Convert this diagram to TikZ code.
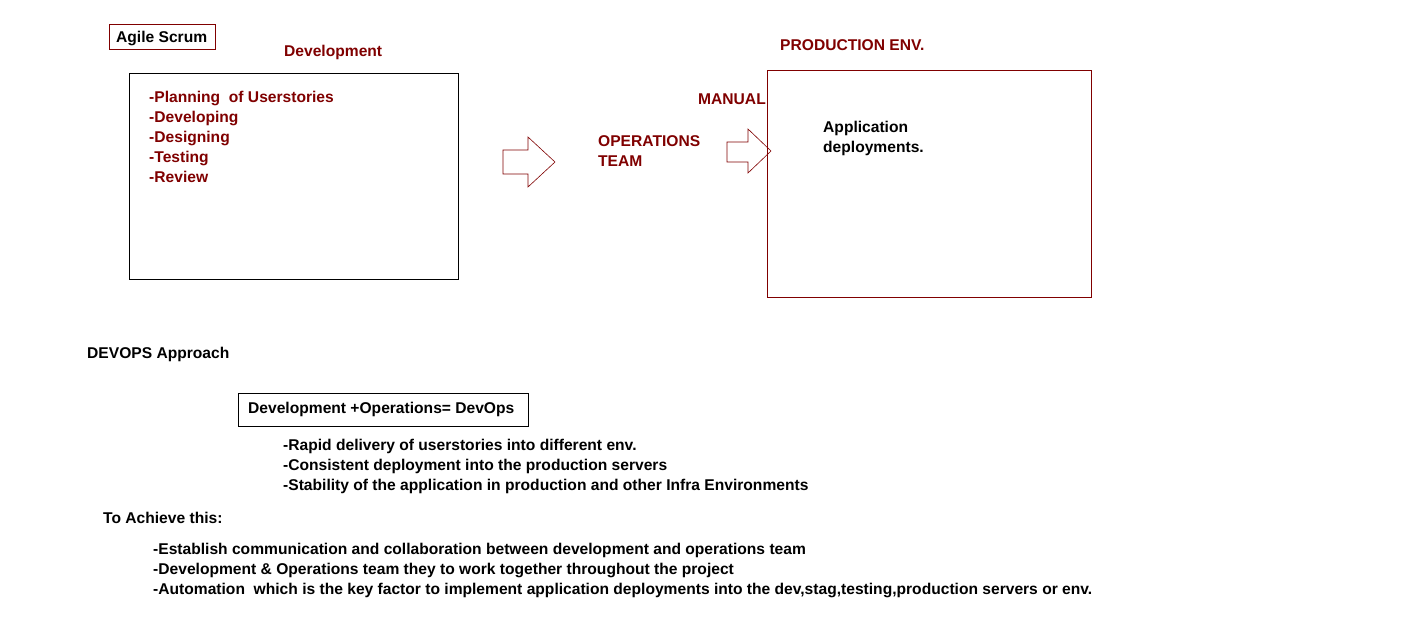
\documentclass[tikz,border=0pt]{standalone}
\usepackage{fontspec}
\setmainfont{Liberation Sans}
\definecolor{maroon}{RGB}{128,0,0}
\begin{document}
\begin{tikzpicture}[x=1pt,y=-1pt,
  txt/.style={anchor=base west,inner sep=0pt,yshift=-5.3pt,font=\fontsize{15.6}{17}\selectfont\bfseries},
  red/.style={txt,text=maroon},
  blk/.style={txt,text=black},
  box/.style={draw,line width=0.8pt}]
\useasboundingbox[fill=white] (0,0) rectangle (1401,639);
% top part
\draw[box,maroon] (109,24) rectangle (215,49);
\node[blk] (agile) at (116,37) {Agile Scrum};
\node[red] (dev) at (284,51) {Development};
\draw[box,black] (129,73) rectangle (458,279);
\node[red] (l1) at (149,97) {-Planning\ \ of Userstories};
\node[red] (l2) at (149,117) {-Developing};
\node[red] (l3) at (149,137) {-Designing};
\node[red] (l4) at (149,157) {-Testing};
\node[red] (l5) at (149,177) {-Review};
% arrows
\draw[maroon,line width=0.6pt] (503,150) -- (528,150) -- (528,137) -- (555,162) -- (528,187) -- (528,174) -- (503,174) -- cycle;
\draw[maroon,line width=0.6pt] (727,142) -- (748,142) -- (748,129) -- (771,151) -- (748,173) -- (748,162) -- (727,162) -- cycle;
\node[red] (ops1) at (598,141) {OPERATIONS};
\node[red] (ops2) at (598,161) {TEAM};
\node[red] (manual) at (698,99) {MANUAL};
\node[red] (prodt) at (780,45) {PRODUCTION ENV.};
\draw[box,maroon] (767,70) rectangle (1091,297);
\node[blk] (app1) at (823,127) {Application};
\node[blk] (app2) at (823,147) {deployments.};
% bottom part
\node[blk] (devops) at (87,353) {DEVOPS Approach};
\draw[box,black] (238,393) rectangle (528,426);
\node[blk] (eq) at (248,408) {Development +Operations= DevOps};
\node[blk] (b1) at (283,445) {-Rapid delivery of userstories into different env.};
\node[blk] (b2) at (283,465) {-Consistent deployment into the production servers};
\node[blk] (b3) at (283,485) {-Stability of the application in production and other Infra Environments};
\node[blk] (ach) at (103,518) {To Achieve this:};
\node[blk] (c1) at (153,549) {-Establish communication and collaboration between development and operations team};
\node[blk] (c2) at (153,569) {-Development \& Operations team they to work together throughout the project};
\node[blk] (c3) at (153,589) {-Automation\ \ which is the key factor to implement application deployments into the dev,stag,testing,production servers or env.};
\end{tikzpicture}
\end{document}
